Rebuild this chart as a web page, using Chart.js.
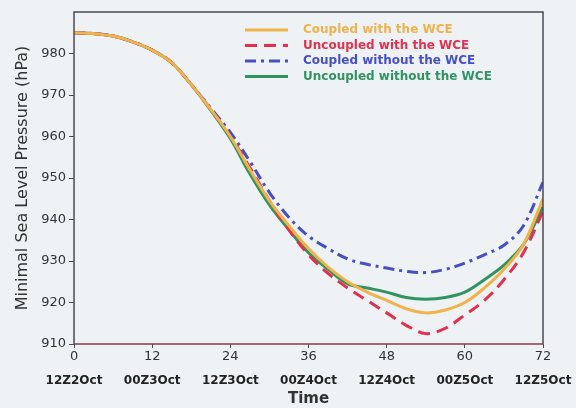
<!DOCTYPE html>
<html>
<head>
<meta charset="utf-8">
<script src="https://cdn.jsdelivr.net/npm/chart.js@4.4.1/dist/chart.umd.min.js"></script>
<style>
  html, body { margin: 0; padding: 0; background: #eef2f4; }
  #wrap { width: 576px; height: 408px; }
</style>
</head>
<body>
<div id="wrap"><canvas id="mslp-chart" width="576" height="408"></canvas></div>
<script>
// forecast hour, every 3 h
var hours = [0, 3, 6, 9, 12, 15, 18, 21, 24, 27, 30, 33, 36, 39, 42, 45, 48, 51, 54, 57, 60, 63, 66, 69, 72];

// minimal sea level pressure (hPa)
var coupledWCE = [985, 984.8, 984.2, 982.8, 980.8, 977.8, 972.5, 966.5, 960, 952, 944.5, 938.5, 933, 928.5, 925, 922.5, 920.5, 918.5, 917.5, 918.2, 920, 923.5, 928, 934, 945];
var uncoupledWCE = [985, 984.8, 984.2, 982.8, 980.8, 977.8, 972.5, 966.5, 960, 952.5, 944.5, 937.5, 931.5, 927, 923.5, 920.5, 917.5, 914.5, 912.5, 913.8, 917, 920.5, 925.5, 932, 942];
var coupledNoWCE = [985, 984.8, 984.2, 982.8, 980.8, 977.8, 972.5, 966.8, 961, 954, 946.5, 940.5, 936, 933, 930.5, 929.2, 928.3, 927.5, 927.2, 928, 929.5, 931.5, 933.8, 938.5, 949];
var uncoupledNoWCE = [985, 984.8, 984.2, 982.8, 980.8, 977.8, 972.5, 966.3, 959.5, 951, 943.5, 937.5, 932, 928, 924.5, 923.5, 922.5, 921.2, 920.8, 921.2, 922.5, 925.5, 929, 934, 943];

var seriesNames = ["Coupled with the WCE", "Uncoupled with the WCE", "Coupled without the WCE", "Uncoupled without the WCE"];

var xTicks = [0, 12, 24, 36, 48, 60, 72];
var dateLabels = ["12Z2Oct", "00Z3Oct", "12Z3Oct", "00Z4Oct", "12Z4Oct", "00Z5Oct", "12Z5Oct"];

function toPoints(values) {
  return values.map(function(v, i) { return { x: hours[i], y: v }; });
}

var font = "'DejaVu Sans', Verdana, sans-serif";

// box around the plot
var frame = {
  id: 'frame',
  afterDraw: function(chart) {
    var a = chart.chartArea, ctx = chart.ctx;
    ctx.save();
    ctx.strokeStyle = "#4a4a55";
    ctx.lineWidth = 1.5;
    ctx.beginPath();
    ctx.moveTo(a.left, a.bottom);
    ctx.lineTo(a.left, a.top);
    ctx.lineTo(a.right, a.top);
    ctx.lineTo(a.right, a.bottom);
    ctx.stroke();
    ctx.strokeStyle = "#8a3a4a";
    ctx.beginPath();
    ctx.moveTo(a.left, a.bottom);
    ctx.lineTo(a.right, a.bottom);
    ctx.stroke();
    ctx.restore();
  }
};

// legend inside the plot, top right
var insideLegend = {
  id: 'insideLegend',
  afterDraw: function(chart) {
    var ctx = chart.ctx, a = chart.chartArea;
    var x0 = a.left + 171, y0 = a.top + 18, gap = 15.5;
    ctx.save();
    ctx.font = "bold 12px " + font;
    ctx.textBaseline = "middle";
    chart.data.datasets.forEach(function(ds, i) {
      var y = y0 + i * gap;
      ctx.strokeStyle = ds.borderColor;
      ctx.lineWidth = 3;
      ctx.setLineDash(ds.borderDash || []);
      ctx.beginPath();
      ctx.moveTo(x0, y);
      ctx.lineTo(x0 + 43, y);
      ctx.stroke();
      ctx.setLineDash([]);
      ctx.fillStyle = ds.borderColor;
      ctx.fillText(ds.label, x0 + 58, y);
    });
    ctx.restore();
  }
};

var bg = {
  id: 'bg',
  beforeDraw: function(chart) {
    var ctx = chart.ctx;
    ctx.save();
    ctx.fillStyle = "#eef2f4";
    ctx.fillRect(0, 0, chart.width, chart.height);
    ctx.restore();
  }
};

var ctx = document.getElementById("mslp-chart").getContext("2d");
var chart = new Chart(ctx, {
  type: 'line',
  data: {
    datasets: [{
      label: seriesNames[0],
      data: toPoints(coupledWCE),
      borderColor: "#f0b24a",
      borderWidth: 3
    }, {
      label: seriesNames[1],
      data: toPoints(uncoupledWCE),
      borderColor: "#e2304e",
      borderWidth: 3,
      borderDash: [12, 7]
    }, {
      label: seriesNames[2],
      data: toPoints(coupledNoWCE),
      borderColor: "#4650c4",
      borderWidth: 3,
      borderDash: [11, 5, 3, 5]
    }, {
      label: seriesNames[3],
      data: toPoints(uncoupledNoWCE),
      borderColor: "#2f9460",
      borderWidth: 3
    }]
  },
  plugins: [bg, frame, insideLegend],
  options: {
    responsive: false,
    animation: false,
    devicePixelRatio: 1,
    layout: { padding: { top: 12, right: 33, left: 13, bottom: 0 } },
    elements: {
      point: { radius: 0 },
      line: { tension: 0.35, fill: false }
    },
    plugins: {
      legend: { display: false },
      tooltip: { enabled: false }
    },
    scales: {
      x: {
        type: 'linear',
        min: 0,
        max: 72,
        afterBuildTicks: function(axis) {
          axis.ticks = xTicks.map(function(v) { return { value: v }; });
        },
        grid: { drawOnChartArea: false, tickLength: 4, color: "#4a4a55" },
        border: { display: false },
        ticks: { color: "#333", padding: 1, font: { family: font, size: 13 }, maxRotation: 0 }
      },
      x2: {
        type: 'linear',
        position: 'bottom',
        min: 0,
        max: 72,
        afterBuildTicks: function(axis) {
          axis.ticks = xTicks.map(function(v) { return { value: v }; });
        },
        grid: { display: false },
        border: { display: false },
        ticks: {
          color: "#222",
          padding: 0,
          maxRotation: 0,
          font: { family: font, size: 12, weight: 'bold' },
          callback: function(v) { return dateLabels[xTicks.indexOf(v)]; }
        },
        title: {
          display: true,
          text: "Time",
          color: "#333",
          padding: { top: 2, bottom: 0 },
          font: { family: font, size: 15, weight: 'bold' }
        }
      },
      y: {
        min: 910,
        max: 990,
        grid: { drawOnChartArea: false, tickLength: 5, color: "#4a4a55" },
        border: { display: false },
        ticks: {
          stepSize: 10,
          padding: 3,
          color: "#333",
          font: { family: font, size: 13 },
          callback: function(v) { return v === 990 ? null : v; }
        },
        title: {
          display: true,
          text: "Minimal Sea Level Pressure (hPa)",
          color: "#333",
          padding: { top: 0, bottom: 6 },
          font: { family: font, size: 16 }
        }
      }
    }
  }
});
</script>
</body>
</html>
